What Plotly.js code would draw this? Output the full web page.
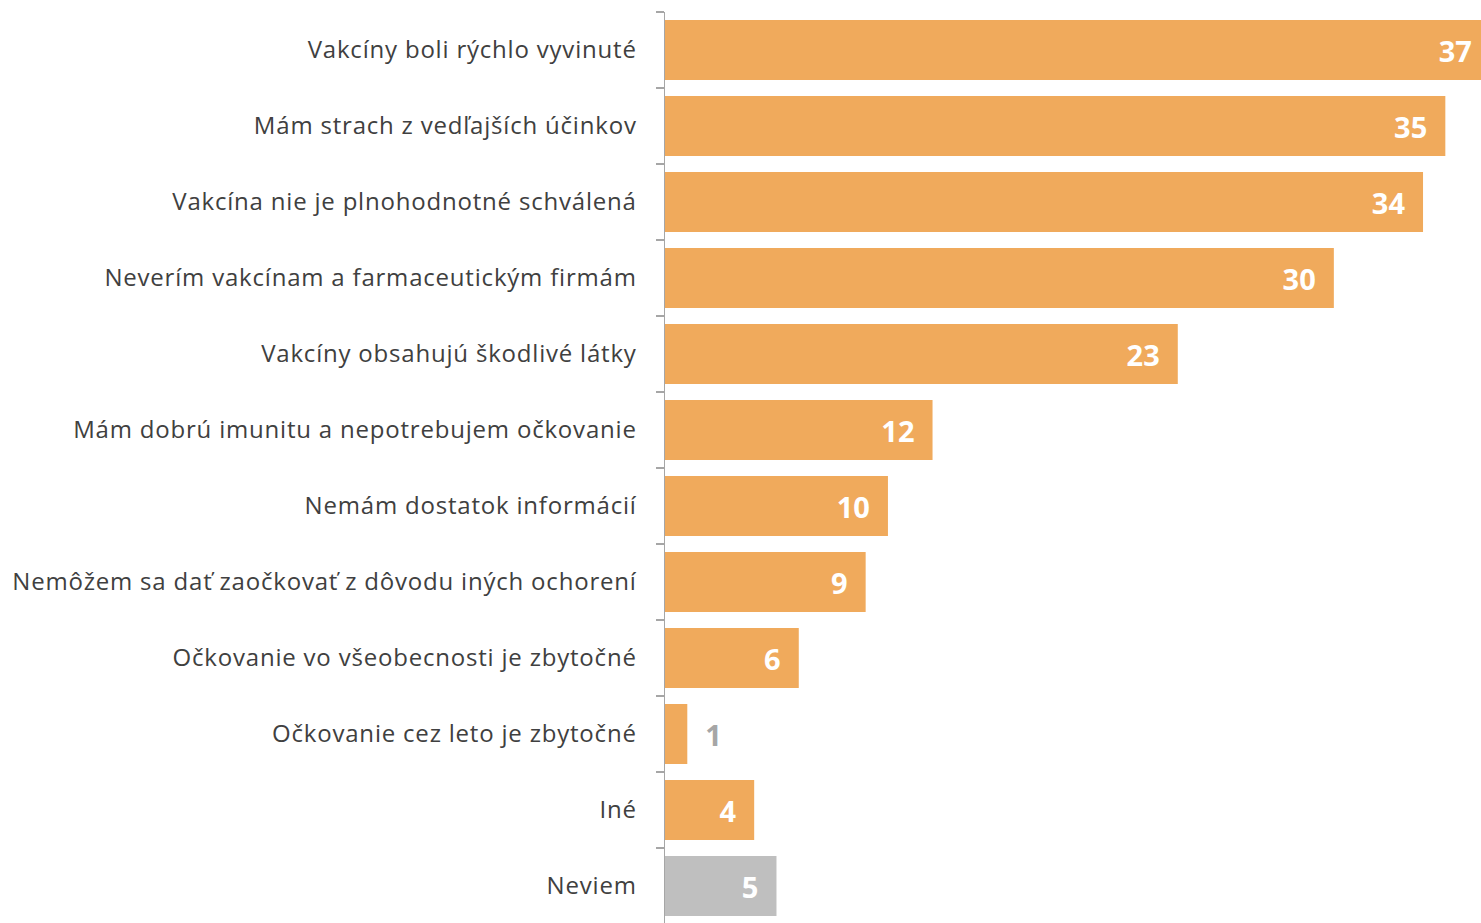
<!DOCTYPE html>
<html>
<head>
<meta charset="utf-8">
<script src="https://cdn.plot.ly/plotly-3.0.1.min.js"></script>
<style>
html,body{margin:0;padding:0;overflow:hidden;background:#fff;}
#chart{width:1481px;height:924px;}
#chart .ytick text{letter-spacing:0.8px;}
</style>
</head>
<body>
<div id="chart"></div>
<script>
const categories = [
  "Vakcíny boli rýchlo vyvinuté",
  "Mám strach z vedľajších účinkov",
  "Vakcína nie je plnohodnotné schválená",
  "Neverím vakcínam a farmaceutickým firmám",
  "Vakcíny obsahujú škodlivé látky",
  "Mám dobrú imunitu a nepotrebujem očkovanie",
  "Nemám dostatok informácií",
  "Nemôžem sa dať zaočkovať z dôvodu iných ochorení",
  "Očkovanie vo všeobecnosti je zbytočné",
  "Očkovanie cez leto je zbytočné",
  "Iné",
  "Neviem"
];
const values = [37, 35, 34, 30, 23, 12, 10, 9, 6, 1, 4, 5];

const ORANGE = "#F0AA5C";
const GREY = "#BFBFBF";
const colors = categories.map(c => c === "Neviem" ? GREY : ORANGE);
const positions = values.map(v => v < 2 ? "outside" : "inside");
const NB = "\u00a0\u00a0";
const texts = values.map(v => v < 2 ? NB + v : v + NB);

const trace = {
  type: "bar",
  orientation: "h",
  y: categories,
  x: values,
  marker: {color: colors, line: {width: 0}},
  text: texts,
  textposition: positions,
  insidetextanchor: "end",
  constraintext: "none",
  textangle: 0,
  insidetextfont: {family: "Open Sans", size: 29, color: "#ffffff", weight: 700},
  outsidetextfont: {family: "Open Sans", size: 29, color: "#A6A6A6", weight: 700},
  hoverinfo: "none",
  cliponaxis: true
};

const layout = {
  width: 1481,
  height: 924,
  margin: {l: 665, r: 0, t: 12, b: 0, pad: 0},
  paper_bgcolor: "#ffffff",
  plot_bgcolor: "#ffffff",
  showlegend: false,
  bargap: 0.21,
  xaxis: {
    visible: false,
    range: [0, 36.6],
    fixedrange: true
  },
  yaxis: {
    type: "category",
    autorange: "reversed",
    showline: true,
    linecolor: "#A6A6A6",
    linewidth: 1.5,
    ticks: "outside",
    tickson: "boundaries",
    ticklen: 8,
    tickcolor: "#A6A6A6",
    tickwidth: 1.5,
    showgrid: false,
    zeroline: false,
    ticklabelstandoff: 22,
    tickfont: {family: "Open Sans", size: 24, color: "#404040"},
    fixedrange: true
  }
};

Plotly.newPlot("chart", [trace], layout, {displayModeBar: false, staticPlot: true});
</script>
</body>
</html>
